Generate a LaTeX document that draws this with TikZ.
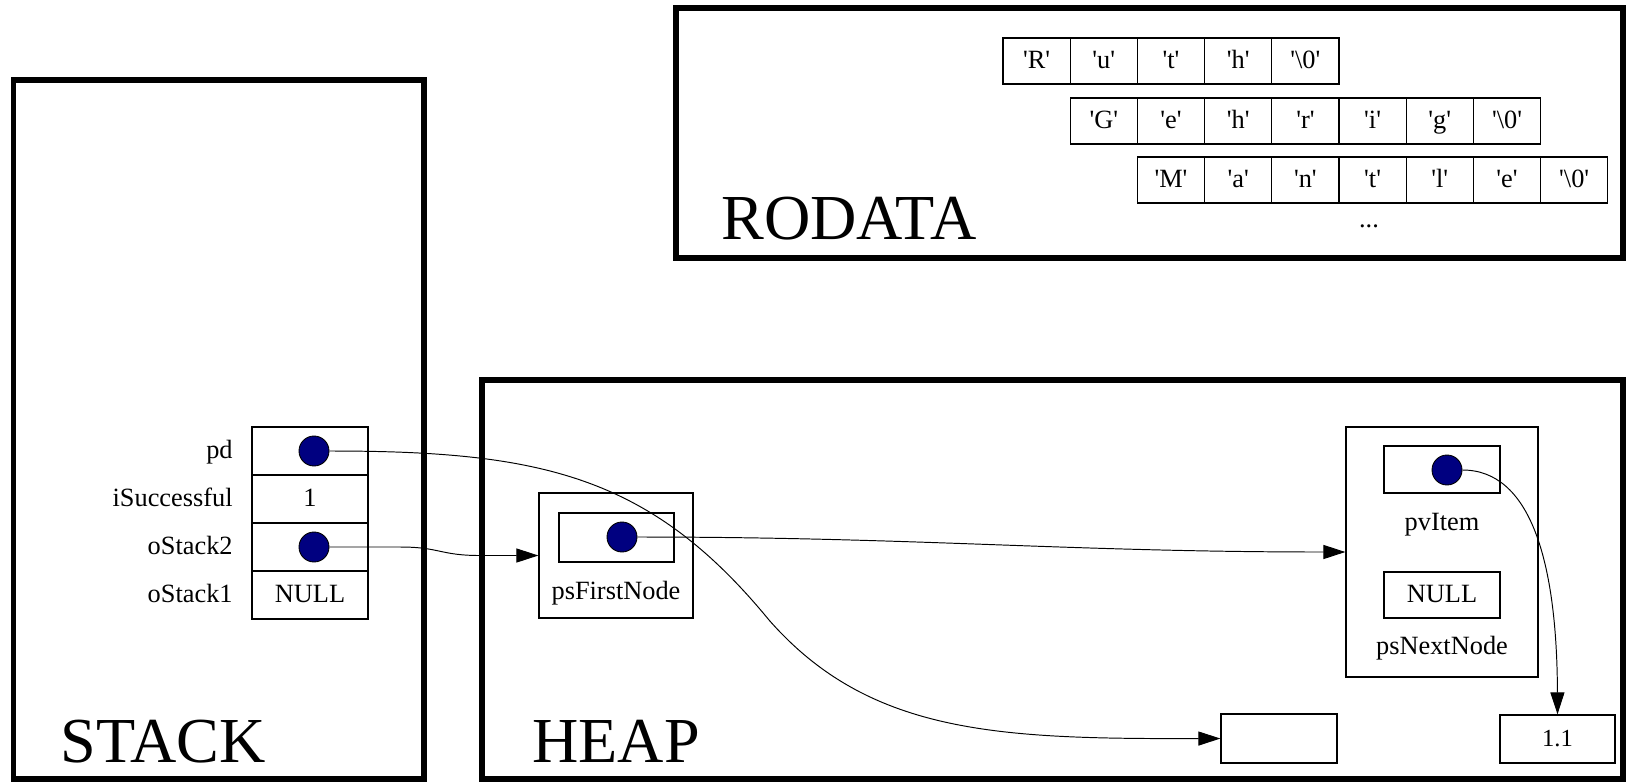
\documentclass[tikz,border=0pt]{standalone}
\usepackage{fontspec}
\setmainfont{Liberation Serif}
\usepackage{tikz}
\usetikzlibrary{arrows.meta}
\definecolor{navy}{HTML}{000080}
\newcommand{\quoted}[1]{\textquotesingle#1\textquotesingle}

\tikzset{
  region/.style={draw,line width=3.4pt},
  regionlabel/.style={anchor=base west,inner sep=0pt,font=\fontsize{36.5}{42}\selectfont},
  txt/.style={inner sep=0pt,text height=10pt,text depth=2pt},
  box/.style={txt,draw,line width=0.75pt},
  cell/.style={box,minimum width=2.32cm,minimum height=0.96cm},
  charcell/.style={box,minimum width=1.344cm,minimum height=0.92cm},
  dot/.style={circle,draw,fill=navy,line width=0.5pt,minimum size=0.6cm,inner sep=0pt},
  link/.style={line width=0.55pt}
}

\begin{document}
\begin{tikzpicture}[x=0.02cm,y=-0.02cm,>={Triangle[length=12.5pt,width=8pt]},
    font=\fontsize{15}{18}\selectfont]
  \useasboundingbox (0,0) rectangle (1630,782);
  % the three memory regions
  \draw[region] (13.5,80) rectangle (424,779);
  \draw[region] (482,380) rectangle (1623,779);
  \draw[region] (676,8) rectangle (1623,258);
  \node[regionlabel] (stackLbl) at (60,762) {STACK};
  \node[regionlabel] (heapLbl) at (532,762) {HEAP};
  \node[regionlabel] (rodataLbl) at (721,239) {RODATA};

  % string literals
  \foreach \c [count=\i from 0] in {R,u,t,h,\textbackslash 0}
    \node[charcell] (ruth\i) at ({1036.6+67.2*\i},61) {\quoted{\c}};
  \foreach \c [count=\i from 1] in {G,e,h,r,i,g,\textbackslash 0}
    \node[charcell] (gehrig\i) at ({1036.6+67.2*\i},121) {\quoted{\c}};
  \foreach \c [count=\i from 2] in {M,a,n,t,l,e,\textbackslash 0}
    \node[charcell] (mantle\i) at ({1036.6+67.2*\i},180) {\quoted{\c}};
  \node[txt] (more) at (1369,220) {...};

  % stack frame
  \foreach \lbl/\val [count=\i from 0] in {pd/{},iSuccessful/1,oStack2/{},oStack1/NULL} {
    \node[cell] (var\i) at (310,{451+48*\i}) {\val};
    \node[txt,anchor=east] (name\i) at (233,{451+48*\i}) {\lbl};
  }
  \node[dot] (pdDot) at (314,451) {};
  \node[dot] (stackDot) at (314,547) {};

  % heap objects
  \node[box,minimum width=3.08cm,minimum height=2.5cm] (first) at (616,555.5) {};
  \node[box,minimum width=2.3cm,minimum height=0.98cm] (firstPtr) at (616.5,537.5) {};
  \node[dot] (firstDot) at (622,537) {};
  \node[txt] (firstLbl) at (616,592) {psFirstNode};

  \node[box,minimum width=3.84cm,minimum height=5cm] (next) at (1442,552) {};
  \node[box,minimum width=2.32cm,minimum height=0.94cm] (item) at (1442,469.5) {};
  \node[dot] (itemDot) at (1447,470) {};
  \node[txt] (itemLbl) at (1442,523) {pvItem};
  \node[box,minimum width=2.32cm,minimum height=0.92cm] (nextPtr) at (1442,595) {NULL};
  \node[txt] (nextLbl) at (1442,647) {psNextNode};

  \node[box,minimum width=2.32cm,minimum height=0.98cm] (empty) at (1279,738.5) {};
  \node[box,minimum width=2.3cm,minimum height=0.96cm,font=\fontsize{14}{17}\selectfont] (val) at (1557.5,739) {1.1};

  % pointers
  \draw[->,link] (pdDot.east) .. controls (540,451) and (650,475) .. (769,620)
    .. controls (870,735) and (1000,739) .. (empty.west);
  \draw[->,link] (stackDot.east) -- (400,547) .. controls (440,547) and (440,555.5) .. (480,555.5) -- (first.west);
  \draw[->,link] (firstDot.east) to[out=0,in=180] (next.west);
  \draw[->,link] (itemDot.east) .. controls (1530,470) and (1557,560) .. (val.north);
\end{tikzpicture}
\end{document}
